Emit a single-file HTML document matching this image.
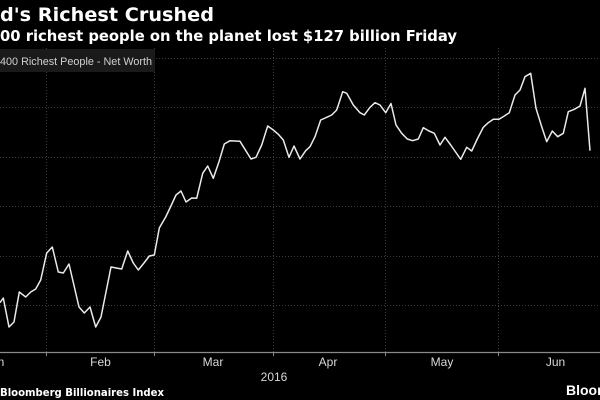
<!DOCTYPE html>
<html><head><meta charset="utf-8"><style>
html,body{margin:0;padding:0;background:#000;width:600px;height:400px;overflow:hidden}
svg{display:block}
</style></head><body>
<svg width="600" height="400" viewBox="0 0 600 400" xmlns="http://www.w3.org/2000/svg">
<rect width="600" height="400" fill="#000"/>
<text x="0" y="21" fill="#fff" font-family="DejaVu Sans, Liberation Sans, sans-serif" font-weight="bold" font-size="19" textLength="214" lengthAdjust="spacingAndGlyphs">d's Richest Crushed</text>
<text x="0" y="41" fill="#fff" font-family="DejaVu Sans, Liberation Sans, sans-serif" font-weight="bold" font-size="14.7" textLength="457" lengthAdjust="spacingAndGlyphs">00 richest people on the planet lost $127 billion Friday</text>
<g stroke="#3c3c3c" stroke-width="1" stroke-dasharray="1,2" fill="none">
<line x1="0" y1="58.5" x2="600" y2="58.5"/>
<line x1="0" y1="107.5" x2="600" y2="107.5"/>
<line x1="0" y1="157.5" x2="600" y2="157.5"/>
<line x1="0" y1="206.5" x2="600" y2="206.5"/>
<line x1="0" y1="256.5" x2="600" y2="256.5"/>
<line x1="0" y1="305.5" x2="600" y2="305.5"/>
<line x1="46.5" y1="48" x2="46.5" y2="352"/>
<line x1="154.5" y1="48" x2="154.5" y2="352"/>
<line x1="273.5" y1="48" x2="273.5" y2="352"/>
<line x1="385.5" y1="48" x2="385.5" y2="352"/>
<line x1="498.5" y1="48" x2="498.5" y2="352"/>
</g>
<rect x="0" y="49" width="155" height="23" fill="#1a1a1a"/>
<text x="0" y="65" fill="#d0d0d0" font-family="Liberation Sans, sans-serif" font-size="11" textLength="152" lengthAdjust="spacingAndGlyphs">400 Richest People - Net Worth</text>
<line x1="0" y1="352.5" x2="600" y2="352.5" stroke="#8a8a8a" stroke-width="1.2"/>
<g stroke="#8a8a8a" stroke-width="1">
<line x1="46.5" y1="352" x2="46.5" y2="356"/>
<line x1="154.5" y1="352" x2="154.5" y2="356"/>
<line x1="273.5" y1="352" x2="273.5" y2="356"/>
<line x1="385.5" y1="352" x2="385.5" y2="356"/>
<line x1="498.5" y1="352" x2="498.5" y2="356"/>
</g>
<g fill="#d8d8d8" font-family="Liberation Sans, sans-serif" font-size="12" text-anchor="middle">
<text x="1" y="366">n</text>
<text x="100.5" y="366">Feb</text>
<text x="213" y="366">Mar</text>
<text x="328" y="366">Apr</text>
<text x="442" y="366">May</text>
<text x="555.5" y="366">Jun</text>
<text x="274" y="381">2016</text>
</g>
<polyline fill="none" stroke="#eaeaea" stroke-width="1.5" stroke-linejoin="round" points="0,302.7 3.3,298 9,327 14,322 19.3,292 25.7,297 30.7,292 35.7,289 40.7,280 46.7,253 52.3,247 58.3,272 63.3,273 69,264 79,307 84.3,313 90,307 95.7,327 101,317 111,267 121.7,269 127.7,251 133.3,263 138.3,270 144,263 149.3,256 154.3,255 159.3,228 165.7,217 170,208 176,195 181,191 186,202 191.7,198 196.7,198.3 202.7,173.3 207.7,166 213.3,178.3 219,161.7 224.3,144 230,140.7 240,141.3 251,159 256,157.3 261.7,145 267.7,126 273.3,130 278.3,134.3 283.3,140 289,157.3 294,146 300,159 305.7,150.7 310,146.7 315,136.7 320.7,120 326.7,117.3 331.7,115 336.7,110 342.7,91.7 346.7,93.3 353.3,105 360,112.7 364.3,115 370,107.3 375,102.7 380,105 385.7,112.7 391,103.5 396,125 401.7,133.3 407.3,139 412.7,140.7 418.3,139 423.3,127.7 429,131 434.3,133.3 440,145 445,137.3 450.7,145 460.7,159.3 466.7,147.3 471.7,151 477.3,139 483.3,127.3 488.3,122.7 493.3,119.3 499,119.3 504.3,116 509.3,112.7 515,95 520,90 525,76.7 530.7,73.3 536,108.3 541.7,126.7 546.7,141.7 552.3,131 557.7,136.7 563.3,133.3 568.3,111.7 574.3,109.3 580,106 585,88.3 590,150.7"/>
<text x="0" y="396" fill="#fff" font-family="DejaVu Sans, Liberation Sans, sans-serif" font-weight="bold" font-size="10.5" textLength="164" lengthAdjust="spacingAndGlyphs">Bloomberg Billionaires Index</text>
<text x="566" y="395" fill="#fff" font-family="Liberation Sans, sans-serif" font-weight="bold" font-size="14">Bloomberg</text>
</svg>
</body></html>
